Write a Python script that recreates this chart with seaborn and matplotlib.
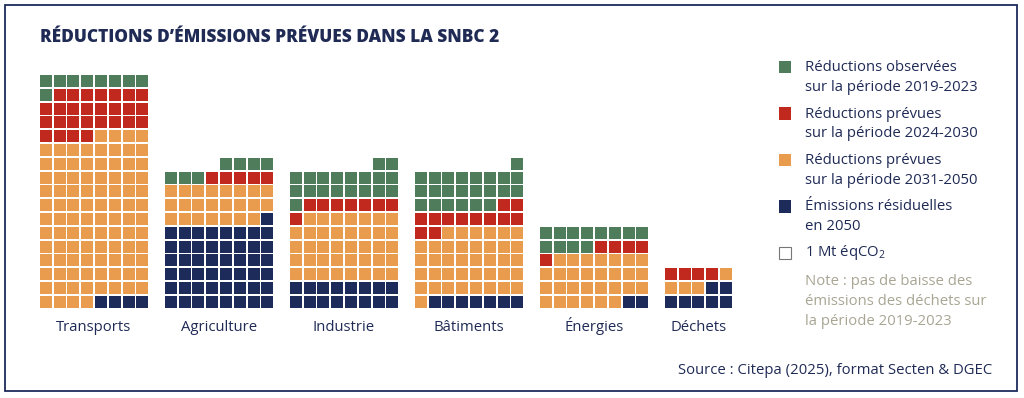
import numpy as np
import pandas as pd
import matplotlib
matplotlib.use("Agg")
import matplotlib.pyplot as plt
from matplotlib.patches import Rectangle
import seaborn as sns

# ---------------- data (1 square = 1 Mt éqCO2) ----------------
sectors = ["Transports", "Agriculture", "Industrie", "Bâtiments", "Énergies", "Déchets"]
observees_2019_2023 = [9, 7, 19, 23, 12, 0]
prevues_2024_2030 = [27, 5, 8, 12, 5, 4]
prevues_2031_2050 = [96, 23, 39, 39, 29, 4]
residuelles_2050 = [4, 49, 16, 7, 2, 7]
columns_per_sector = [8, 8, 8, 8, 8, 5]

categories = ["Réductions observées\nsur la période 2019-2023",
              "Réductions prévues\nsur la période 2024-2030",
              "Réductions prévues\nsur la période 2031-2050",
              "Émissions résiduelles\nen 2050"]
colors = ["#4f7d5c", "#c1291f", "#e99c4e", "#1d2b5b"]
note_text = "Note : pas de baisse des\némissions des déchets sur\nla période 2019-2023"
title = "RÉDUCTIONS D’ÉMISSIONS PRÉVUES DANS LA SNBC 2"
source = "Source : Citepa (2025), format Secten & DGEC"

# ---------------- layout ----------------
W, H = 1024, 398
pitch = 13.8
side = 12.0
group_left0 = 39.7
group_step = 125.0
base_y = 307.7
navy = "#1f2a55"
note_color = "#a8a593"

sns.set_theme(style="white")
plt.rcParams["font.family"] = ["Open Sans", "DejaVu Sans"]
plt.rcParams["mathtext.default"] = "regular"

# build cells: stacking order from bottom: residual, 2031-2050, 2024-2030, observed
series_bottom_up = [residuelles_2050, prevues_2031_2050, prevues_2024_2030, observees_2019_2023]
cat_bottom_up = [categories[3], categories[2], categories[1], categories[0]]
rows = []
for g, sec in enumerate(sectors):
    nc = columns_per_sector[g]
    k = 0
    for vals, cat in zip(series_bottom_up, cat_bottom_up):
        for _ in range(vals[g]):
            r = k // nc
            c = nc - 1 - (k % nc)
            x = group_left0 + g * group_step + c * pitch + side / 2
            y = base_y - side / 2 - r * pitch
            rows.append(dict(sector=sec, category=cat, x=x, y=y))
            k += 1
cells = pd.DataFrame(rows)

fig = plt.figure(figsize=(W / 100, H / 100), dpi=100)
ax = fig.add_axes([0, 0, 1, 1])

msize = (side * 72 / 100) ** 2
sns.scatterplot(data=cells, x="x", y="y", hue="category", hue_order=categories,
                palette=colors, marker="s", s=msize, linewidth=0, legend=False, ax=ax)
ax.set_xlim(0, W)
ax.set_ylim(H, 0)
ax.axis("off")

fs = 10.7
# sector labels
for g, sec in enumerate(sectors):
    nc = columns_per_sector[g]
    cx = group_left0 + g * group_step + ((nc - 1) * pitch + side) / 2
    ax.text(cx, 331, sec, ha="center", va="baseline", fontsize=fs, color=navy)

# title
ax.text(40, 38, title, ha="left", va="center", fontsize=12.4, fontweight="heavy", color=navy)

# legend
leg_y = [67, 113.5, 160, 206.5]
for i, cat in enumerate(categories):
    ax.add_patch(Rectangle((778.5, leg_y[i] - 6.2), 12.5, 12.5, facecolor=colors[i], edgecolor="none"))
    ax.text(805, leg_y[i] - 7, cat, ha="left", va="top", fontsize=fs, color=navy,
            linespacing=1.45)
ax.add_patch(Rectangle((779, 246.5), 12, 12, facecolor="white", edgecolor="#777777", linewidth=0.8))
ax.text(805, 253, "1 Mt éqCO$_2$", ha="left", va="center", fontsize=fs, color=navy)
ax.text(805, 274, note_text, ha="left", va="top", fontsize=fs, color=note_color, linespacing=1.45)

# source
ax.text(992, 371, source, ha="right", va="center", fontsize=fs, color=navy)

# frame
ax.add_patch(Rectangle((4.5, 4.5), 1012, 386, facecolor="none", edgecolor="#1d2b5b", linewidth=1.3))

fig.savefig("out.png", dpi=100)
